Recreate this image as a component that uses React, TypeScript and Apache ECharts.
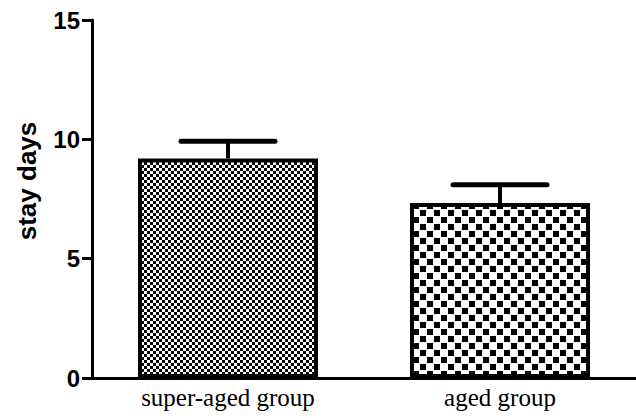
import React, { useEffect, useRef } from "react";
import * as echarts from "echarts";

const categories = ["super-aged group", "aged group"];
const means = [9.2, 7.33];
const upperErrors = [9.92, 8.1];
const yTicks = [0, 5, 10, 15];

function makePattern(tile: number, cell: number, gap: number): string {
  const c = document.createElement("canvas");
  c.width = tile;
  c.height = tile;
  const ctx = c.getContext("2d")!;
  ctx.fillStyle = "#ffffff";
  ctx.fillRect(0, 0, tile, tile);
  ctx.fillStyle = "#000000";
  ctx.fillRect(0, 0, cell - gap, cell - gap);
  ctx.fillRect(cell, cell, cell - gap, cell - gap);
  return c.toDataURL();
}

export default function App() {
  const ref = useRef<HTMLDivElement>(null);
  useEffect(() => {
    if (!ref.current) return;
    const chart = echarts.init(ref.current, null, { renderer: "svg" });
    const fine = makePattern(6, 3, 0);
    const coarse = makePattern(14, 7, 1);
    const patterns = [fine, coarse];
    chart.setOption({
      animation: false,
      backgroundColor: "#ffffff",
      grid: { left: 92, right: 0, top: 20, bottom: 40, containLabel: false },
      xAxis: {
        type: "category",
        data: categories,
        axisLine: { lineStyle: { color: "#000", width: 3 } },
        axisTick: { alignWithLabel: true, length: 9, lineStyle: { color: "#000", width: 2 } },
        axisLabel: {
          color: "#000",
          fontFamily: "Liberation Serif",
          fontSize: 25,
          margin: 7,
        },
      },
      yAxis: {
        type: "value",
        min: yTicks[0],
        max: yTicks[yTicks.length - 1],
        interval: 5,
        splitLine: { show: false },
        axisLine: { show: true, lineStyle: { color: "#000", width: 3 } },
        axisTick: { show: true, length: 10, lineStyle: { color: "#000", width: 3 } },
        axisLabel: {
          color: "#000",
          fontFamily: "Liberation Sans",
          fontWeight: "bold",
          fontSize: 24,
          margin: 12,
        },
      },
      graphic: [
        {
          type: "text",
          x: 27,
          y: 181,
          rotation: Math.PI / 2,
          style: {
            text: "stay days",
            fontFamily: "Liberation Sans",
            fontWeight: "bold",
            fontSize: 26,
            fill: "#000",
            textAlign: "center",
            textVerticalAlign: "middle",
          },
        },
      ],
      series: [
        {
          type: "bar",
          barWidth: 180,
          data: means.map((v, i) => ({
            value: v,
            itemStyle: {
              color: { image: patterns[i], repeat: "repeat" },
              borderColor: "#000",
              borderWidth: 4,
            },
          })),
          z: 2,
        },
        {
          type: "custom",
          z: 1,
          data: categories.map((c, i) => [i, means[i], upperErrors[i]]),
          renderItem: (params: any, api: any) => {
            const x = api.value(0);
            const base = api.coord([x, api.value(1)]);
            const top = api.coord([x, api.value(2)]);
            const half = 47;
            return {
              type: "group",
              children: [
                {
                  type: "line",
                  shape: { x1: base[0], y1: base[1], x2: top[0], y2: top[1] },
                  style: { stroke: "#000", lineWidth: 4 },
                },
                {
                  type: "line",
                  shape: { x1: top[0] - half, y1: top[1], x2: top[0] + half, y2: top[1] },
                  style: { stroke: "#000", lineWidth: 5, lineCap: "round" },
                },
              ],
            };
          },
        },
      ],
    });
    return () => chart.dispose();
  }, []);
  return <div ref={ref} style={{ width: 636, height: 418, position: "absolute", left: 0, top: 0 }} />;
}
